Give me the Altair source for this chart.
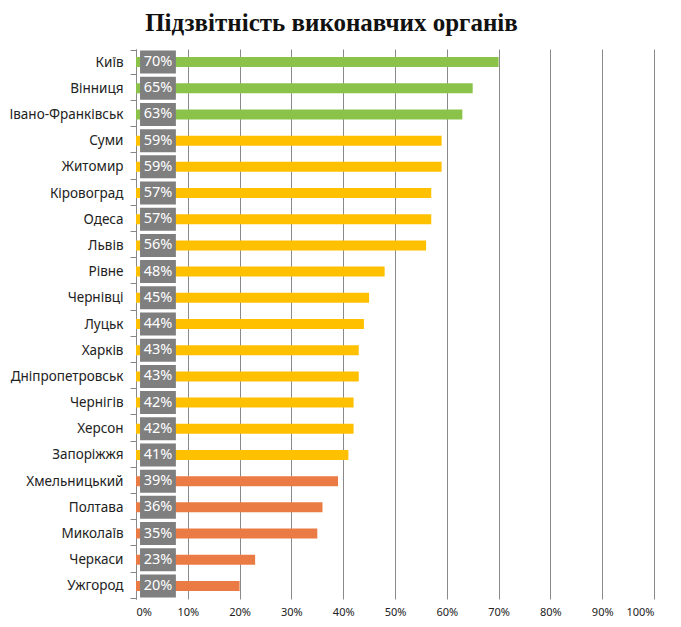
import altair as alt
import pandas as pd

cities = ["Київ", "Вінниця", "Івано-Франківськ", "Суми", "Житомир", "Кіровоград",
          "Одеса", "Львів", "Рівне", "Чернівці", "Луцьк", "Харків", "Дніпропетровськ",
          "Чернігів", "Херсон", "Запоріжжя", "Хмельницький", "Полтава", "Миколаїв",
          "Черкаси", "Ужгород"]
values = [70, 65, 63, 59, 59, 57, 57, 56, 48, 45, 44, 43, 43, 42, 42, 41, 39, 36, 35, 23, 20]
groups = ["high"] * 3 + ["mid"] * 13 + ["low"] * 5
group_names = ["high", "mid", "low"]
group_colors = ["#8BC34A", "#FFC000", "#EA7B45"]

df = pd.DataFrame({
    "city": cities,
    "value": [v / 100 for v in values],
    "group": groups,
    "label": [f"{v}%" for v in values],
})

FONT = "Noto Sans"

y_enc = alt.Y("city:N", sort=cities, title=None,
              axis=alt.Axis(labelFont=FONT, labelFontSize=13.5, labelColor="#222222",
                            labelPadding=7, tickBand="extent", tickSize=6,
                            tickColor="#888888", domainColor="#888888",
                            labelLimit=200))
x_scale = alt.Scale(domain=[0, 1])

bars = alt.Chart(df).mark_bar(size=10).encode(
    x=alt.X("value:Q", scale=x_scale, title=None,
            axis=alt.Axis(format="%", values=[i / 10 for i in range(11)],
                          labelFont=FONT, labelFontSize=11, labelColor="#222222",
                          ticks=False, domain=False, grid=True,
                          gridColor="#8a8a8a", gridWidth=1, labelPadding=7)),
    y=y_enc,
    color=alt.Color("group:N", scale=alt.Scale(domain=group_names, range=group_colors),
                    legend=None),
)

boxes = alt.Chart(df).mark_bar(size=23, color="#7f7f7f").encode(
    x=alt.datum(0.0078, scale=x_scale),
    x2=alt.datum(0.077),
    y=alt.Y("city:N", sort=cities),
)

texts = alt.Chart(df).mark_text(color="white", font=FONT, fontSize=14.5, align="center",
                                baseline="middle").encode(
    x=alt.datum(0.0424, scale=x_scale),
    y=alt.Y("city:N", sort=cities),
    text="label:N",
)

chart = alt.layer(bars, boxes, texts).properties(
    width=518, height=550,
    padding={"left": 0, "top": 3, "right": 5, "bottom": 5},
    title=alt.TitleParams("Підзвітність виконавчих органів", font="Liberation Serif",
                          fontSize=25, fontWeight="bold", color="#111111",
                          anchor="middle", frame="bounds", offset=6),
).configure_view(stroke=None).configure_axisY(domainColor="#888888")

chart.save("out.html", embed_options={"renderer": "svg", "actions": False})
